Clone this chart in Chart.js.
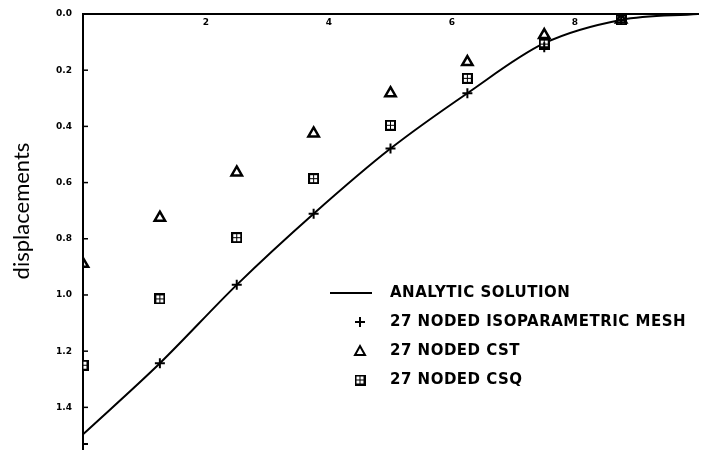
<!DOCTYPE html>
<html>
<head>
<meta charset="utf-8">
<script src="https://cdn.jsdelivr.net/npm/chart.js@4"></script>
<style>
  html, body { margin: 0; padding: 0; background: #fff; overflow: hidden; }
  #wrap { width: 714px; height: 458px; }
</style>
</head>
<body>
<div id="wrap"><canvas id="myChart"></canvas></div>
<script>
// mesh node positions (x) and displacements
var xValues   = [0, 1.25, 2.5, 3.75, 5, 6.25, 7.5, 8.75];
var analyticX = [0, 1.25, 2.5, 3.75, 5, 6.25, 7.5, 8.75, 10];
var analyticY = [1.496, 1.243, 0.964, 0.711, 0.479, 0.282, 0.104, 0.021, 0.0];
var isoY = [1.53, 1.243, 0.964, 0.711, 0.479, 0.282, 0.118, 0.021];
var cstY = [0.889, 0.725, 0.564, 0.425, 0.282, 0.171, 0.075, 0.02];
var csqY = [1.25, 1.014, 0.796, 0.586, 0.396, 0.229, 0.107, 0.021];

var xTicks = [2, 4, 6, 8];
var yTicks = [0, 0.2, 0.4, 0.6, 0.8, 1.0, 1.2, 1.4];

var legendLabels = [
    "ANALYTIC SOLUTION",
    "27 NODED ISOPARAMETRIC MESH",
    "27 NODED CST",
    "27 NODED CSQ"
];

function pts(xs, ys) {
    return ys.map(function (v, i) { return { x: xs[i], y: v }; });
}

// boxed-cross marker for the CSQ series
var csqMark = document.createElement("canvas");
csqMark.width = 11;
csqMark.height = 11;
(function () {
    var c = csqMark.getContext("2d");
    c.fillStyle = "#000";
    c.fillRect(0, 0, 11, 11);
    c.fillStyle = "#fff";
    c.fillRect(2, 2, 3, 3);
    c.fillRect(6, 2, 3, 3);
    c.fillRect(2, 6, 3, 3);
    c.fillRect(6, 6, 3, 3);
})();

var extras = {
    id: "extras",
    afterDraw: function (chart) {
        var ctx = chart.ctx;
        var sx = chart.scales.x, sy = chart.scales.y;
        ctx.save();
        ctx.strokeStyle = "#000";
        ctx.fillStyle = "#000";
        ctx.lineWidth = 1.5;
        // small inward ticks on the y axis
        yTicks.forEach(function (v) {
            if (v === 0) return;
            var py = sy.getPixelForValue(v);
            ctx.beginPath();
            ctx.moveTo(sx.left, py);
            ctx.lineTo(sx.left + 5, py);
            ctx.stroke();
        });
        // x labels sit just under the top axis line
        ctx.font = 'bold 9px "DejaVu Sans"';
        ctx.textAlign = "center";
        ctx.textBaseline = "middle";
        xTicks.forEach(function (v) {
            ctx.fillText(String(v), sx.getPixelForValue(v), sy.top + 9);
        });

        // axis title
        ctx.save();
        ctx.translate(22, 211);
        ctx.rotate(-Math.PI / 2);
        ctx.font = '22px Lato';
        ctx.fillText("displacements", 0, 0);
        ctx.restore();

        // legend
        var lx = 360, tx = 390, rows = [293, 322, 351, 380];
        ctx.lineWidth = 2;
        ctx.beginPath();
        ctx.moveTo(330, rows[0]);
        ctx.lineTo(372, rows[0]);
        ctx.stroke();
        ctx.beginPath();
        ctx.moveTo(lx - 5, rows[1]); ctx.lineTo(lx + 5, rows[1]);
        ctx.moveTo(lx, rows[1] - 5); ctx.lineTo(lx, rows[1] + 5);
        ctx.stroke();
        ctx.beginPath();
        ctx.moveTo(lx, rows[2] - 5);
        ctx.lineTo(lx + 5, rows[2] + 4);
        ctx.lineTo(lx - 5, rows[2] + 4);
        ctx.closePath();
        ctx.stroke();
        ctx.drawImage(csqMark, lx - 5.5, rows[3] - 5.5);

        ctx.font = 'bold 15px "DejaVu Sans"';
        ctx.letterSpacing = "0.5px";
        ctx.textAlign = "left";
        legendLabels.forEach(function (t, i) {
            ctx.fillText(t, tx, rows[i]);
        });
        ctx.restore();
    }
};

new Chart("myChart", {
    type: "scatter",
    data: {
        datasets: [{
            label: legendLabels[0],
            data: pts(analyticX, analyticY),
            showLine: true,
            borderColor: "#000",
            borderWidth: 2,
            pointRadius: 0,
            cubicInterpolationMode: "monotone",
            order: 4
        }, {
            label: legendLabels[1],
            data: pts(xValues, isoY),
            pointStyle: "cross",
            pointRadius: 5,
            borderColor: "#000",
            borderWidth: 2
        }, {
            label: legendLabels[2],
            data: pts(xValues, cstY),
            pointStyle: "triangle",
            pointRadius: 6,
            borderColor: "#000",
            backgroundColor: "rgba(255,255,255,0)",
            borderWidth: 2.5
        }, {
            label: legendLabels[3],
            data: pts(xValues, csqY),
            pointStyle: csqMark,
            pointRadius: 6
        }]
    },
    options: {
        responsive: true,
        maintainAspectRatio: false,
        animation: false,
        layout: { padding: { top: 14, right: 16, bottom: 3, left: 0 } },
        plugins: {
            legend: { display: false },
            tooltip: { enabled: false }
        },
        scales: {
            x: {
                type: "linear",
                position: "top",
                min: 0,
                max: 10,
                grid: { display: false, drawTicks: false },
                border: { display: true, color: "#000", width: 2 },
                ticks: { display: false },
                afterFit: function (s) { s.height = 0; s.paddingLeft = 0; s.paddingRight = 0; }
            },
            y: {
                type: "linear",
                reverse: true,
                min: 0,
                max: 1.55,
                grid: { display: false, drawTicks: false },
                border: { display: true, color: "#000", width: 2 },
                afterBuildTicks: function (s) {
                    s.ticks = yTicks.map(function (v) { return { value: v }; });
                },
                afterFit: function (s) { s.width = 83; s.paddingTop = 0; s.paddingBottom = 0; },
                ticks: {
                    padding: 11,
                    color: "#000",
                    font: { family: "DejaVu Sans", size: 9, weight: "bold" },
                    callback: function (v) { return v.toFixed(1); }
                }
            }
        }
    },
    plugins: [extras]
});
</script>
</body>
</html>
